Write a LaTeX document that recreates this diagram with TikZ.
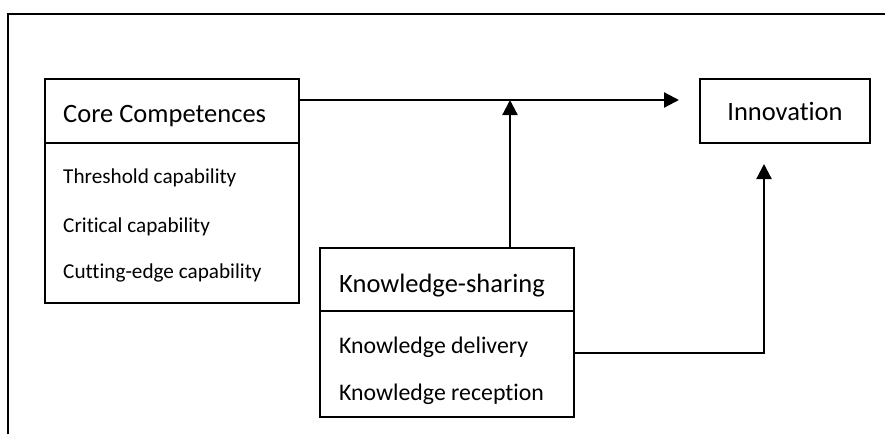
\documentclass[tikz,border=0pt]{standalone}
\usepackage{fontspec}
\setmainfont{Carlito}[Ligatures=NoCommon]
\usetikzlibrary{arrows.meta}
\begin{document}
\begin{tikzpicture}[x=1pt,y=-1pt,
  box/.style={draw=black,line width=2pt,inner sep=0pt},
  head/.style={font=\fontsize{26.5}{31}\selectfont,anchor=base west,inner sep=0pt},
  item/.style={font=\fontsize{21.2}{25}\selectfont,anchor=base west,inner sep=0pt},
  kitem/.style={font=\fontsize{23.8}{28}\selectfont,anchor=base west,inner sep=0pt},
  conn/.style={line width=2.2pt,-{Triangle[length=15pt,width=15pt]}},
  frame/.style={line width=1.8pt}]
\useasboundingbox (0,0) rectangle (885,434);
% frame
\coordinate (fA) at (8,434);
\coordinate (fB) at (8,14);
\coordinate (fC) at (885,14);
\draw[frame] (fA) -- (fB) -- (fC);
% core competences
\node[box,minimum width=254pt,minimum height=64pt] (coreT) at (172,111) {};
\node[box,minimum width=254pt,minimum height=160pt] (coreL) at (172,223) {};
\node[head] (coreH) at (63,122) {Core Competences};
\node[item] (c1) at (63,183) {Threshold capability};
\node[item] (c2) at (63,232) {Critical capability};
\node[item] (c3) at (63,278) {Cutting-edge capability};
% innovation
\node[box,minimum width=170pt,minimum height=64pt,font=\fontsize{26.5}{31}\selectfont] (inn) at (785,111) {Innovation};
% knowledge sharing
\node[box,minimum width=254pt,minimum height=63pt] (ksT) at (447,279.5) {};
\node[box,minimum width=254pt,minimum height=106pt] (ksL) at (447,364) {};
\node[head] (ksH) at (339,292) {Knowledge-sharing};
\node[kitem] (k1) at (339,353) {Knowledge delivery};
\node[kitem] (k2) at (339,400) {Knowledge reception};
% connectors
\coordinate (a1) at (679,100);
\coordinate (m) at (510,100);
\coordinate (a2) at (764,164);
\coordinate (r) at (574,353);
\draw[conn] (coreT.east |- a1) -- (a1);
\draw[conn] (ksT.north -| m) -- (m);
\draw[conn] (ksL.east |- r) -| (a2);
\end{tikzpicture}
\end{document}
